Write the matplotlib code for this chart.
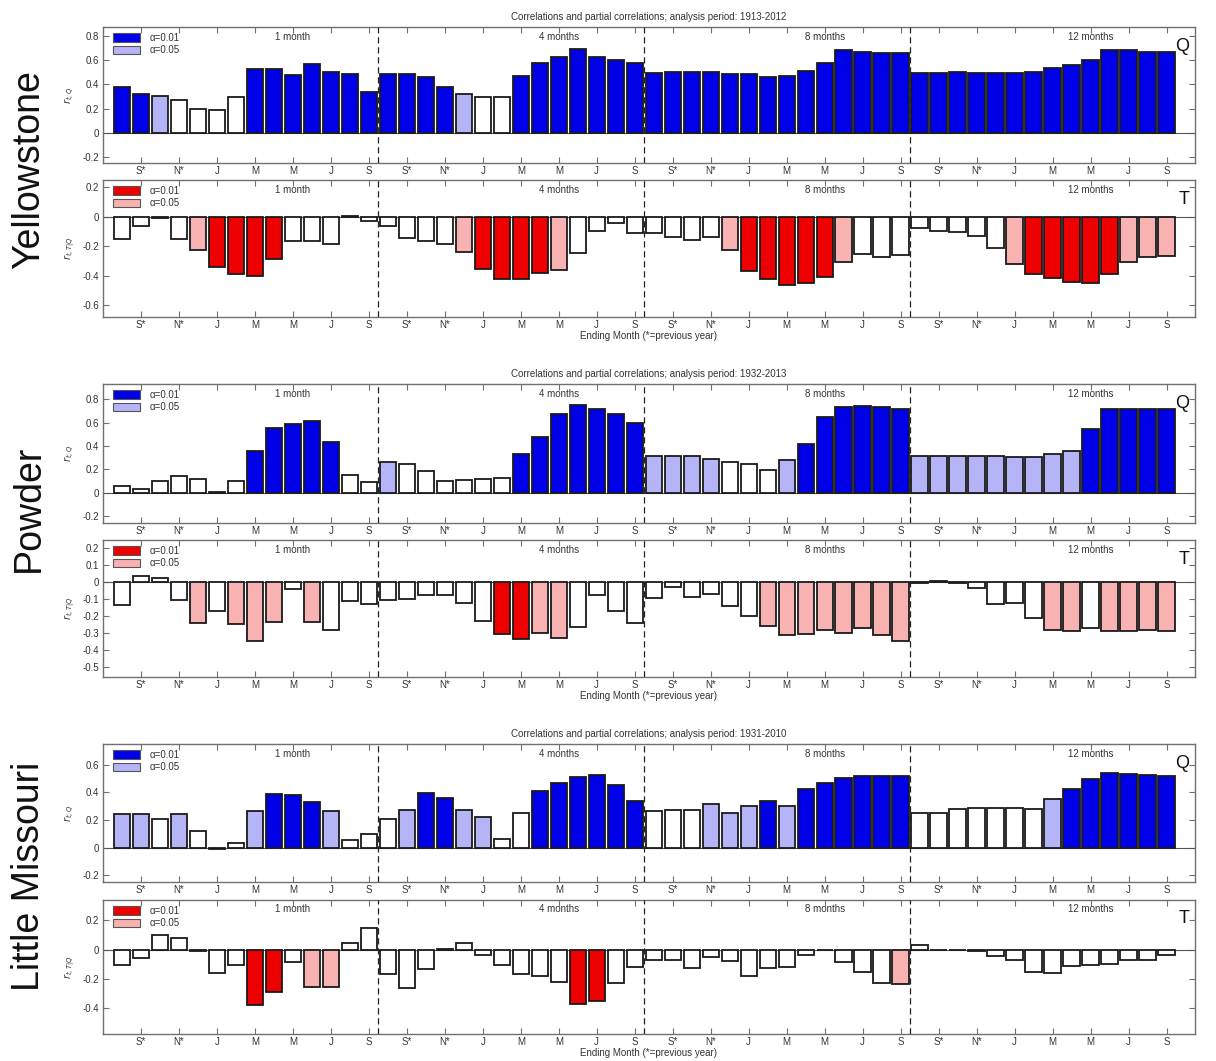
import matplotlib
matplotlib.use('Agg')
import matplotlib.pyplot as plt
from matplotlib.patches import Patch
import numpy as np

plt.rcParams['font.family'] = ['Liberation Sans', 'DejaVu Sans']
plt.rcParams['axes.unicode_minus'] = False

# ending months shown on the x axis (every second month of each window)
month_labels = ['S*', 'N*', 'J', 'M', 'M', 'J', 'S']
windows = ['1 month', '4 months', '8 months', '12 months']
stations = ['Yellowstone', 'Powder', 'Little Missouri']
periods = ['1913-2012', '1932-2013', '1931-2010']

# correlations with streamflow (Q) and partial correlations with temperature (T)
# 4 windows x 14 ending months (Aug* .. Sep)
# significance: 0 = n.s., 1 = alpha 0.05, 2 = alpha 0.01
yel_q = [0.375, 0.32, 0.305, 0.27, 0.195, 0.19, 0.30, 0.525, 0.525, 0.475, 0.57, 0.50, 0.49, 0.335,
         0.485, 0.485, 0.46, 0.375, 0.32, 0.295, 0.295, 0.47, 0.575, 0.63, 0.69, 0.63, 0.60, 0.575,
         0.495, 0.50, 0.50, 0.50, 0.49, 0.49, 0.46, 0.47, 0.51, 0.575, 0.685, 0.665, 0.66, 0.66,
         0.495, 0.495, 0.50, 0.495, 0.495, 0.495, 0.50, 0.535, 0.56, 0.60, 0.685, 0.685, 0.67, 0.665]
yel_q_sig = [2, 2, 1, 0, 0, 0, 0, 2, 2, 2, 2, 2, 2, 2,
             2, 2, 2, 2, 1, 0, 0, 2, 2, 2, 2, 2, 2, 2,
             2, 2, 2, 2, 2, 2, 2, 2, 2, 2, 2, 2, 2, 2,
             2, 2, 2, 2, 2, 2, 2, 2, 2, 2, 2, 2, 2, 2]
yel_t = [-0.153, -0.063, -0.01, -0.149, -0.228, -0.343, -0.39, -0.404, -0.285, -0.165, -0.165, -0.187, 0.005, -0.03,
         -0.063, -0.147, -0.165, -0.187, -0.237, -0.357, -0.424, -0.424, -0.384, -0.36, -0.248, -0.093, -0.045, -0.113,
         -0.113, -0.138, -0.16, -0.14, -0.228, -0.368, -0.42, -0.465, -0.447, -0.408, -0.31, -0.25, -0.27, -0.26,
         -0.079, -0.093, -0.10, -0.13, -0.214, -0.318, -0.39, -0.413, -0.442, -0.447, -0.39, -0.31, -0.27, -0.266]
yel_t_sig = [0, 0, 0, 0, 1, 2, 2, 2, 2, 0, 0, 0, 0, 0,
             0, 0, 0, 0, 1, 2, 2, 2, 2, 1, 0, 0, 0, 0,
             0, 0, 0, 0, 1, 2, 2, 2, 2, 2, 1, 0, 0, 0,
             0, 0, 0, 0, 0, 1, 2, 2, 2, 2, 2, 1, 1, 1]

pow_q = [0.058, 0.032, 0.10, 0.14, 0.12, 0.003, 0.097, 0.354, 0.556, 0.585, 0.612, 0.436, 0.155, 0.09,
         0.266, 0.243, 0.184, 0.097, 0.11, 0.117, 0.126, 0.33, 0.48, 0.675, 0.747, 0.72, 0.675, 0.60,
         0.316, 0.31, 0.31, 0.287, 0.264, 0.243, 0.19, 0.278, 0.42, 0.647, 0.735, 0.74, 0.735, 0.72,
         0.316, 0.316, 0.316, 0.316, 0.316, 0.307, 0.307, 0.328, 0.354, 0.545, 0.72, 0.72, 0.72, 0.717]
pow_q_sig = [0, 0, 0, 0, 0, 0, 0, 2, 2, 2, 2, 2, 0, 0,
             1, 0, 0, 0, 0, 0, 0, 2, 2, 2, 2, 2, 2, 2,
             1, 1, 1, 1, 0, 0, 0, 1, 2, 2, 2, 2, 2, 2,
             1, 1, 1, 1, 1, 1, 1, 1, 1, 2, 2, 2, 2, 2]
pow_t = [-0.137, 0.036, 0.024, -0.103, -0.24, -0.172, -0.248, -0.35, -0.236, -0.038, -0.236, -0.28, -0.111, -0.13,
         -0.107, -0.099, -0.073, -0.073, -0.123, -0.228, -0.305, -0.335, -0.297, -0.33, -0.267, -0.073, -0.172, -0.242,
         -0.091, -0.026, -0.087, -0.069, -0.139, -0.198, -0.257, -0.313, -0.307, -0.283, -0.297, -0.269, -0.313, -0.348,
         -0.006, 0.008, -0.004, -0.036, -0.13, -0.125, -0.214, -0.28, -0.287, -0.27, -0.287, -0.287, -0.28, -0.287]
pow_t_sig = [0, 0, 0, 0, 1, 0, 1, 1, 1, 0, 1, 0, 0, 0,
             0, 0, 0, 0, 0, 0, 2, 2, 1, 1, 0, 0, 0, 0,
             0, 0, 0, 0, 0, 0, 1, 1, 1, 1, 1, 1, 1, 1,
             0, 0, 0, 0, 0, 0, 0, 1, 1, 0, 1, 1, 1, 1]

lmo_q = [0.241, 0.243, 0.207, 0.241, 0.118, -0.012, 0.031, 0.267, 0.39, 0.383, 0.328, 0.267, 0.055, 0.10,
         0.205, 0.275, 0.395, 0.357, 0.275, 0.22, 0.065, 0.253, 0.41, 0.47, 0.51, 0.528, 0.455, 0.34,
         0.263, 0.27, 0.27, 0.318, 0.25, 0.30, 0.335, 0.30, 0.427, 0.47, 0.504, 0.518, 0.518, 0.518,
         0.253, 0.253, 0.277, 0.284, 0.284, 0.284, 0.277, 0.35, 0.427, 0.50, 0.54, 0.53, 0.523, 0.518]
lmo_q_sig = [1, 1, 0, 1, 0, 0, 0, 1, 2, 2, 2, 1, 0, 0,
             0, 1, 2, 2, 1, 1, 0, 0, 2, 2, 2, 2, 2, 2,
             0, 0, 0, 1, 1, 1, 2, 1, 2, 2, 2, 2, 2, 2,
             0, 0, 0, 0, 0, 0, 0, 1, 2, 2, 2, 2, 2, 2]
lmo_t = [-0.106, -0.061, 0.102, 0.079, -0.011, -0.158, -0.106, -0.38, -0.294, -0.086, -0.255, -0.255, 0.043, 0.151,
         -0.165, -0.264, -0.131, 0.007, 0.043, -0.038, -0.108, -0.165, -0.181, -0.226, -0.377, -0.35, -0.233, -0.12,
         -0.07, -0.07, -0.129, -0.052, -0.079, -0.181, -0.129, -0.118, -0.036, -0.003, -0.088, -0.151, -0.233, -0.237,
         0.034, -0.003, -0.003, -0.01, -0.043, -0.075, -0.151, -0.16, -0.113, -0.108, -0.102, -0.075, -0.075, -0.036]
lmo_t_sig = [0, 0, 0, 0, 0, 0, 0, 2, 2, 0, 1, 1, 0, 0,
             0, 0, 0, 0, 0, 0, 0, 0, 0, 0, 2, 2, 0, 0,
             0, 0, 0, 0, 0, 0, 0, 0, 0, 0, 0, 0, 0, 1,
             0, 0, 0, 0, 0, 0, 0, 0, 0, 0, 0, 0, 0, 0]

q_colors = ['white', '#b4b4f6', '#0000e8']
t_colors = ['white', '#f8b2b2', '#ee0000']

panels = [
    # values, significance, colours, letter, ylim, yticks, ylabel
    (yel_q, yel_q_sig, q_colors, 'Q', (-0.25, 0.875), np.arange(-0.2, 0.81, 0.2), r'$r_{t,Q}$'),
    (yel_t, yel_t_sig, t_colors, 'T', (-0.68, 0.25), np.arange(-0.6, 0.21, 0.2), r'$r_{t,T|Q}$'),
    (pow_q, pow_q_sig, q_colors, 'Q', (-0.26, 0.93), np.arange(-0.2, 0.81, 0.2), r'$r_{t,Q}$'),
    (pow_t, pow_t_sig, t_colors, 'T', (-0.56, 0.25), np.arange(-0.5, 0.21, 0.1), r'$r_{t,T|Q}$'),
    (lmo_q, lmo_q_sig, q_colors, 'Q', (-0.25, 0.75), np.arange(-0.2, 0.61, 0.2), r'$r_{t,Q}$'),
    (lmo_t, lmo_t_sig, t_colors, 'T', (-0.58, 0.34), np.arange(-0.4, 0.21, 0.2), r'$r_{t,T|Q}$'),
]

# pixel boxes (top, bottom) of each panel
boxes = [(27, 163), (180, 317), (384, 523), (540, 677), (744, 882), (900, 1034)]
# vertical centres of the station names, in pixels from the top
name_y = [170, 508, 876]
W, H = 1216, 1061
left, right = 103, 1195

fig = plt.figure(figsize=(W / 100, H / 100), dpi=100)

x = np.arange(1, 57)
tick_pos = [g * 14 + k for g in range(4) for k in (2, 4, 6, 8, 10, 12, 14)]
tick_lab = month_labels * 4
frame = '#707070'
txt = '#333333'

for i, (vals, sig, cols, letter, ylim, yticks, ylab) in enumerate(panels):
    top, bot = boxes[i]
    ax = fig.add_axes([left / W, 1 - bot / H, (right - left) / W, (bot - top) / H])
    ax.bar(x, vals, width=0.86, color=[cols[s] for s in sig],
           edgecolor='#1a1a1a', linewidth=1.3, zorder=3)
    ax.axhline(0, color='#555555', lw=0.8, zorder=2)
    for d in (14.5, 28.5, 42.5):
        ax.axvline(d, color='#222222', lw=0.9, ls=(0, (5, 3)), zorder=4)
    ax.set_xlim(0, 57.5)
    ax.set_ylim(*ylim)
    ax.set_xticks(tick_pos)
    ax.set_xticklabels(tick_lab)
    ax.set_yticks(yticks)
    ax.set_yticklabels([f'{v:g}' if abs(v) > 1e-9 else '0' for v in np.round(yticks, 2)])
    ax.tick_params(direction='in', top=True, right=True, length=4, width=0.8,
                   color=frame, labelsize=7, labelcolor=txt, pad=3)
    ax.tick_params(axis='x', pad=2)
    for sp in ax.spines.values():
        sp.set_color(frame)
        sp.set_linewidth(1.0)
    ax.set_ylabel(ylab, fontsize=7, color=txt, labelpad=4)

    for g, name in enumerate(windows):
        ax.text(g * 14 + 10, 0.93, name, transform=ax.get_xaxis_transform(),
                ha='center', va='center', fontsize=7, color=txt)
    ax.text(0.995, 0.86, letter, transform=ax.transAxes, ha='right', va='center',
            fontsize=13, color='#111111')

    leg = ax.legend(handles=[Patch(facecolor=cols[2], edgecolor='#555555', lw=0.8),
                             Patch(facecolor=cols[1], edgecolor='#555555', lw=0.8)],
                    labels=['\u03b1=0.01', '\u03b1=0.05'],
                    loc='upper left', bbox_to_anchor=(0.004, 1.0), frameon=False,
                    fontsize=7, handlelength=2.8, handleheight=1.0, handletextpad=0.9,
                    labelspacing=0.25, borderaxespad=0.2)
    for t in leg.get_texts():
        t.set_color(txt)

    if letter == 'Q':
        ax.set_title('Correlations and partial correlations; analysis period: ' + periods[i // 2],
                     fontsize=7, color=txt, pad=5)
    else:
        ax.set_xlabel('Ending Month (*=previous year)', fontsize=7, color=txt, labelpad=1)

# station names down the left side
for name, yc in zip(stations, name_y):
    fig.text(29 / W, 1 - yc / H, name, rotation=90, ha='center', va='center',
             fontsize=27, color='#111111')

fig.savefig('out.png', dpi=100)
